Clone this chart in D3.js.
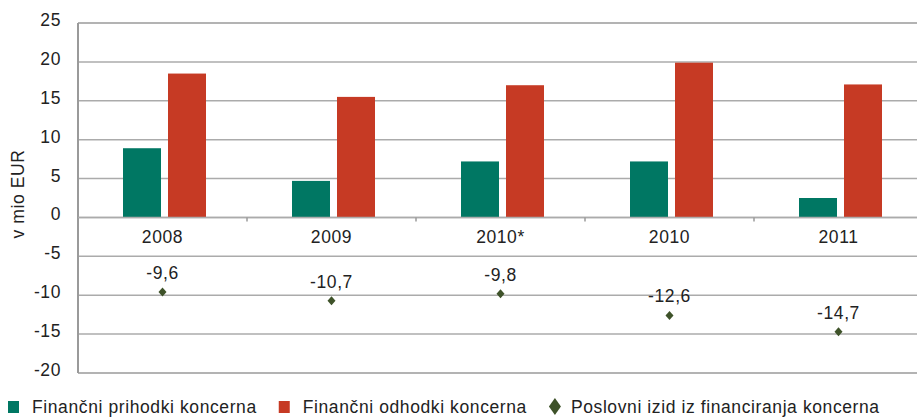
<!DOCTYPE html>
<html>
<head>
<meta charset="utf-8">
<script src="https://cdn.jsdelivr.net/npm/d3@7"></script>
<style>
  body { margin: 0; background: #fff; }
  svg { display: block; font-family: "Liberation Sans", Arial, sans-serif; }
  text { fill: #222; font-size: 17.5px; letter-spacing: 0.6px; }
</style>
</head>
<body>
<div id="chart"></div>
<script>
const categories = ["2008", "2009", "2010*", "2010", "2011"];
const prihodki = [8.9, 4.7, 7.2, 7.2, 2.5];
const odhodki = [18.5, 15.5, 17.0, 19.9, 17.1];
const izid = [-9.6, -10.7, -9.8, -12.6, -14.7];
const yTicks = [25, 20, 15, 10, 5, 0, -5, -10, -15, -20];
const seriesNames = ["Finančni prihodki koncerna", "Finančni odhodki koncerna", "Poslovni izid iz financiranja koncerna"];

const green = "#007763", red = "#c63a24", olive = "#3e5229";

const width = 917, height = 417;
const svg = d3.select("#chart").append("svg").attr("width", width).attr("height", height);

const x = d3.scaleBand().domain(categories).range([78, 923]);
const inner = d3.scaleBand().domain(["p", "o"]).range([45, 128]).paddingInner(0.1556);
const y = d3.scaleLinear().domain([-20, 25]).range([373, 23]);

// gridlines
svg.append("g").selectAll("line")
  .data(yTicks)
  .enter().append("line")
  .attr("x1", 78).attr("x2", width)
  .attr("y1", d => y(d)).attr("y2", d => y(d))
  .attr("stroke", d => (d === 25 || d === -20) ? "#9a9a9a" : "#ababab")
  .attr("stroke-width", 1.5);

// y tick labels
svg.append("g").selectAll("text")
  .data(yTicks)
  .enter().append("text")
  .attr("x", 61).attr("y", d => y(d) + 3)
  .attr("text-anchor", "end")
  .text(d => d);

// left axis
svg.append("line")
  .attr("x1", 78).attr("x2", 78)
  .attr("y1", y(25)).attr("y2", y(-20))
  .attr("stroke", "#9a9a9a").attr("stroke-width", 2);

// axis title
svg.append("text")
  .attr("transform", "translate(24,194) rotate(-90)")
  .attr("text-anchor", "middle")
  .text("v mio EUR");

// bars
const groups = svg.append("g").selectAll("g")
  .data(categories)
  .enter().append("g")
  .attr("transform", d => `translate(${x(d)},0)`);

groups.append("rect")
  .attr("x", inner("p")).attr("width", inner.bandwidth())
  .attr("y", (d, i) => y(prihodki[i]))
  .attr("height", (d, i) => y(0) - y(prihodki[i]))
  .attr("fill", green);

groups.append("rect")
  .attr("x", inner("o")).attr("width", inner.bandwidth())
  .attr("y", (d, i) => y(odhodki[i]))
  .attr("height", (d, i) => y(0) - y(odhodki[i]))
  .attr("fill", red);

// zero line with category ticks
svg.append("line")
  .attr("x1", 78).attr("x2", width)
  .attr("y1", y(0)).attr("y2", y(0))
  .attr("stroke", "#ababab").attr("stroke-width", 1.5);

svg.append("g").selectAll("line")
  .data(categories.slice(1))
  .enter().append("line")
  .attr("x1", d => x(d)).attr("x2", d => x(d))
  .attr("y1", y(0)).attr("y2", y(0) + 4)
  .attr("stroke", "#9a9a9a").attr("stroke-width", 1.5);

// category labels
groups.append("text")
  .attr("x", x.bandwidth() / 2)
  .attr("y", y(0) + 26)
  .attr("text-anchor", "middle")
  .text(d => d);

// diamonds
const diamond = (cx, cy, w, h) => `M${cx},${cy - h / 2}L${cx + w / 2},${cy}L${cx},${cy + h / 2}L${cx - w / 2},${cy}Z`;

groups.append("path")
  .attr("d", (d, i) => diamond(x.bandwidth() / 2, y(izid[i]), 8, 9))
  .attr("fill", olive);

groups.append("text")
  .attr("x", x.bandwidth() / 2)
  .attr("y", (d, i) => y(izid[i]) - 13)
  .attr("text-anchor", "middle")
  .text((d, i) => String(izid[i]).replace(".", ","));

// legend
const legend = svg.append("g");
let lx = 8;
seriesNames.forEach((name, i) => {
  if (i < 2) {
    legend.append("rect")
      .attr("x", lx).attr("y", 401)
      .attr("width", 11).attr("height", 12)
      .attr("fill", i === 0 ? green : red);
    lx += 24;
  } else {
    legend.append("path")
      .attr("d", diamond(lx + 6, 406.5, 12, 17))
      .attr("fill", olive);
    lx += 22;
  }
  const t = legend.append("text")
    .attr("x", lx).attr("y", 413)
    .text(name);
  lx += t.node().getComputedTextLength() + 22;
});
</script>
</body>
</html>
